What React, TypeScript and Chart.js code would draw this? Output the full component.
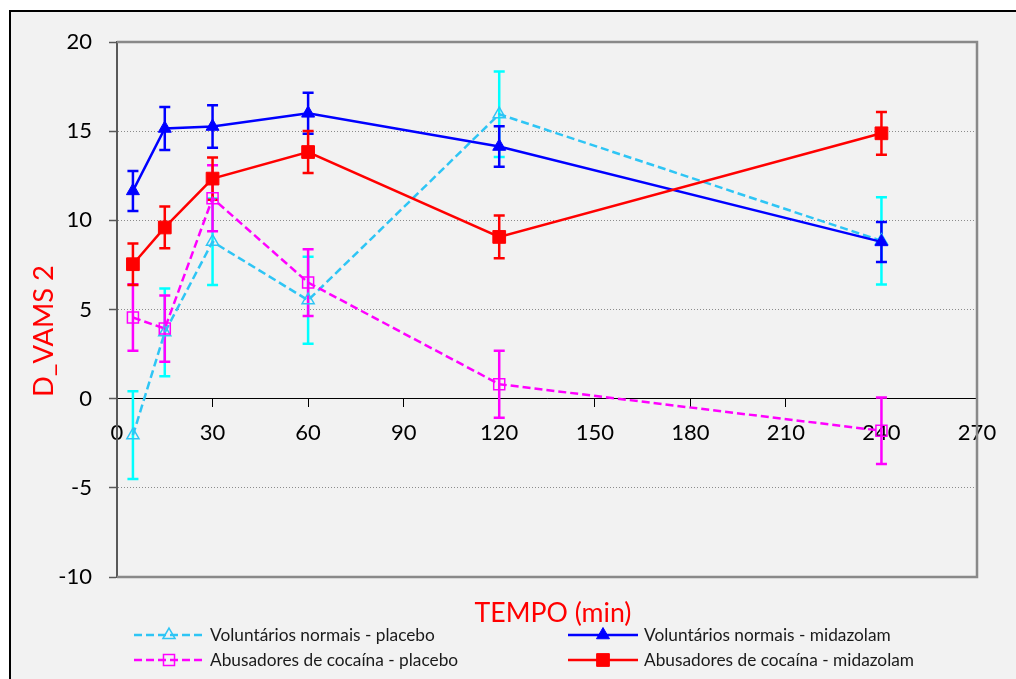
import React, { useEffect, useRef } from "react";
import { Chart, registerables } from "chart.js";
Chart.register(...registerables);

const FONT = "Lato, 'Liberation Sans', sans-serif";

// ---- data ----
const timesMin = [5, 15, 30, 60, 120, 240];
const xTickValues = [0, 30, 60, 90, 120, 150, 180, 210, 240, 270];
const yTickValues = [-10, -5, 0, 5, 10, 15, 20];

const seriesLabels = [
  "Voluntários normais - placebo",
  "Voluntários normais - midazolam",
  "Abusadores de cocaína - placebo",
  "Abusadores de cocaína - midazolam",
];

const normaisPlacebo = [-2.05, 3.72, 8.8, 5.52, 15.95, 8.85];
const normaisPlaceboErr = [2.46, 2.46, 2.42, 2.44, 2.4, 2.45];
const normaisMidazolam = [11.65, 15.15, 15.26, 16.0, 14.14, 8.79];
const normaisMidazolamErr = [1.12, 1.2, 1.19, 1.15, 1.13, 1.12];
const cocainaPlacebo = [4.55, 3.93, 11.24, 6.51, 0.81, -1.8];
const cocainaPlaceboErr = [1.87, 1.86, 1.85, 1.87, 1.88, 1.87];
const cocainaMidazolam = [7.54, 9.6, 12.34, 13.83, 9.07, 14.88];
const cocainaMidazolamErr = [1.16, 1.17, 1.18, 1.18, 1.2, 1.2];

const xTitle = "TEMPO (min)";
const yTitle = "D_VAMS 2";

// ---- styles ----
const seriesValues = [normaisPlacebo, normaisMidazolam, cocainaPlacebo, cocainaMidazolam];
const seriesErrors = [normaisPlaceboErr, normaisMidazolamErr, cocainaPlaceboErr, cocainaMidazolamErr];
const styles = [
  { line: "#2ec5f5", err: "#00ffff", dash: [8, 4], point: "triangle", filled: false, radius: 7 },
  { line: "#0000ff", err: "#0000ff", dash: [], point: "triangle", filled: true, radius: 7.5 },
  { line: "#ff00ff", err: "#ff00ff", dash: [8, 4], point: "rect", filled: false, radius: 7.8 },
  { line: "#ff0000", err: "#ff0000", dash: [], point: "rect", filled: true, radius: 9 },
];

function fitSize(ctx: CanvasRenderingContext2D, text: string, target: number) {
  ctx.font = `100px ${FONT}`;
  const w = ctx.measureText(text).width;
  return (100 * target) / w;
}

function drawMarker(ctx: CanvasRenderingContext2D, kind: string, x: number, y: number, r: number, color: string, filled: boolean) {
  ctx.save();
  ctx.beginPath();
  if (kind === "triangle") {
    for (let k = 0; k < 3; k++) {
      const a = (k * 2 * Math.PI) / 3;
      const px = x + Math.sin(a) * r;
      const py = y - Math.cos(a) * r;
      if (k === 0) ctx.moveTo(px, py);
      else ctx.lineTo(px, py);
    }
    ctx.closePath();
  } else {
    const s = r * Math.SQRT1_2;
    ctx.rect(x - s, y - s, 2 * s, 2 * s);
  }
  ctx.setLineDash([]);
  if (filled) {
    ctx.fillStyle = color;
    ctx.fill();
    ctx.lineWidth = 1;
  } else {
    ctx.lineWidth = 1.5;
  }
  ctx.strokeStyle = color;
  ctx.stroke();
  ctx.restore();
}

const plotFramePlugin = {
  id: "plotFrame",
  beforeDatasetsDraw(chart: any) {
    const { ctx, chartArea } = chart;
    const { left, top, right, bottom } = chartArea;
    ctx.save();
    ctx.strokeStyle = "#898989";
    ctx.lineWidth = 2.5;
    ctx.beginPath();
    ctx.moveTo(left, top);
    ctx.lineTo(right, top);
    ctx.lineTo(right, bottom);
    ctx.lineTo(left, bottom);
    ctx.stroke();
    ctx.restore();
  },
};

const errorBarsPlugin = {
  id: "errorBars",
  beforeDatasetsDraw(chart: any) {
    const { ctx } = chart;
    const xs = chart.scales.x;
    const ys = chart.scales.y;
    seriesValues.forEach((vals, si) => {
      const errs = seriesErrors[si];
      ctx.save();
      ctx.strokeStyle = styles[si].err;
      ctx.lineWidth = 2.5;
      ctx.setLineDash([]);
      timesMin.forEach((t, i) => {
        const px = xs.getPixelForValue(t);
        const pt = ys.getPixelForValue(vals[i] + errs[i]);
        const pb = ys.getPixelForValue(vals[i] - errs[i]);
        ctx.beginPath();
        ctx.moveTo(px, pt);
        ctx.lineTo(px, pb);
        ctx.moveTo(px - 5.5, pt);
        ctx.lineTo(px + 5.5, pt);
        ctx.moveTo(px - 5.5, pb);
        ctx.lineTo(px + 5.5, pb);
        ctx.stroke();
      });
      ctx.restore();
    });
  },
};

const annotationsPlugin = {
  id: "annotations",
  afterDraw(chart: any) {
    const { ctx, chartArea } = chart;
    ctx.save();
    // x title
    const xs = fitSize(ctx, xTitle, 157);
    ctx.font = `${xs}px ${FONT}`;
    ctx.fillStyle = "#ff0000";
    ctx.textAlign = "center";
    ctx.textBaseline = "alphabetic";
    ctx.fillText(xTitle, 553, 622);
    // y title
    const ysz = fitSize(ctx, yTitle, 132);
    ctx.font = `${ysz}px ${FONT}`;
    ctx.save();
    ctx.translate(53, 331);
    ctx.rotate(-Math.PI / 2);
    ctx.fillText(yTitle, 0, 0);
    ctx.restore();
    // legend
    const lsz = fitSize(ctx, seriesLabels[0], 225);
    const cols = [134, 568];
    const rows = [635, 660];
    seriesLabels.forEach((lab, i) => {
      const cx = cols[i % 2];
      const cy = rows[Math.floor(i / 2)];
      const st = styles[i];
      ctx.save();
      ctx.strokeStyle = st.line;
      ctx.lineWidth = 2.5;
      ctx.setLineDash(st.dash);
      ctx.beginPath();
      ctx.moveTo(cx, cy);
      ctx.lineTo(cx + 70, cy);
      ctx.stroke();
      ctx.restore();
      drawMarker(ctx, st.point, cx + 35, cy, st.radius, st.line, st.filled);
      ctx.font = `${lsz}px ${FONT}`;
      ctx.fillStyle = "#1a1a1a";
      ctx.textAlign = "left";
      ctx.textBaseline = "alphabetic";
      ctx.fillText(lab, cx + 76, cy + 6);
    });
    ctx.restore();
  },
};

export default function App() {
  const ref = useRef<HTMLCanvasElement>(null);
  useEffect(() => {
    const datasets = seriesValues.map((vals, si) => ({
      label: seriesLabels[si],
      data: timesMin.map((t, i) => ({ x: t, y: vals[i] })),
      borderColor: styles[si].line,
      borderWidth: 2.5,
      borderDash: styles[si].dash,
      backgroundColor: styles[si].filled ? styles[si].line : "rgba(0,0,0,0)",
      pointStyle: styles[si].point,
      pointRadius: styles[si].radius,
      pointBorderWidth: styles[si].filled ? 1 : 1.5,
      pointBorderColor: styles[si].line,
      pointBackgroundColor: styles[si].filled ? styles[si].line : "rgba(0,0,0,0)",
      tension: 0,
      fill: false,
      order: 4 - si,
    }));
    const chart = new Chart(ref.current as HTMLCanvasElement, {
      type: "line",
      data: { datasets },
      options: {
        animation: false,
        responsive: false,
        devicePixelRatio: 1,
        font: { family: FONT },
        layout: { padding: { left: 0, top: 42, right: 39, bottom: 102 } },
        plugins: { legend: { display: false }, tooltip: { enabled: false }, title: { display: false } },
        scales: {
          x: {
            type: "linear",
            min: 0,
            max: 270,
            position: { y: 0 } as any,
            afterBuildTicks: (s: any) => {
              s.ticks = xTickValues.map((v) => ({ value: v }));
            },
            ticks: { color: "#000", font: { family: FONT, size: 22 }, padding: 13, maxRotation: 0, autoSkip: false },
            grid: { drawOnChartArea: false, drawTicks: true, tickLength: 8, tickColor: "#000", tickWidth: 1 },
            border: { color: "#000", width: 1 },
          },
          y: {
            type: "linear",
            min: -10,
            max: 20,
            afterBuildTicks: (s: any) => {
              s.ticks = yTickValues.map((v) => ({ value: v }));
            },
            afterFit: (s: any) => {
              s.width = 117;
            },
            ticks: { color: "#000", font: { family: FONT, size: 22 }, padding: 17 },
            grid: { color: "#8c8c8c", lineWidth: 1, tickLength: 8, tickColor: "#595959", tickWidth: 1.5, tickBorderDash: [] },
            border: { color: "#595959", width: 2, dash: [1, 2] },
          },
        },
      },
      plugins: [plotFramePlugin, errorBarsPlugin, annotationsPlugin],
    } as any);
    return () => chart.destroy();
  }, []);
  return (
    <div style={{ position: "fixed", left: 0, top: 0, width: 1016, height: 679, overflow: "hidden", background: "#fff" }}>
      <div
        style={{
          position: "absolute",
          left: 9,
          top: 10,
          width: 1100,
          height: 800,
          border: "2px solid #000",
          background: "#f2f2f2",
          boxSizing: "border-box",
        }}
      />
      <canvas ref={ref} width={1016} height={679} style={{ position: "absolute", left: 0, top: 0, width: 1016, height: 679 }} />
    </div>
  );
}
